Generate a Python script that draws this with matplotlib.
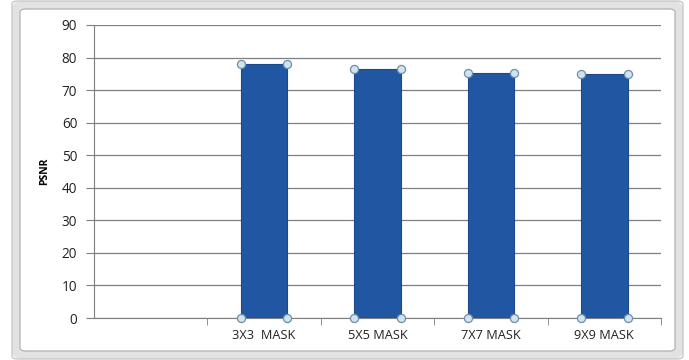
import matplotlib.pyplot as plt
from matplotlib.patches import FancyBboxPatch

categories = ['', '3X3  MASK', '5X5 MASK', '7X7 MASK', '9X9 MASK']
psnr = [0, 78.0, 76.5, 75.3, 74.8]
y_ticks = [0, 10, 20, 30, 40, 50, 60, 70, 80, 90]

plt.rcParams['font.family'] = ['Open Sans', 'DejaVu Sans']

fig = plt.figure(figsize=(6.89, 3.60), dpi=100)

# window frame around the chart: light band with thin darker edges
band = FancyBboxPatch((16 / 689, 5 / 360), 663 / 689, 350 / 360,
                      boxstyle='round,pad=0,rounding_size=0.008',
                      transform=fig.transFigure, facecolor='none',
                      edgecolor='#e2e2e2', linewidth=5.5, zorder=10)
outer = FancyBboxPatch((12 / 689, 1 / 360), 671 / 689, 358 / 360,
                       boxstyle='round,pad=0,rounding_size=0.008',
                       transform=fig.transFigure, facecolor='none',
                       edgecolor='#bdbdbd', linewidth=0.8, zorder=11)
inner = FancyBboxPatch((20 / 689, 9 / 360), 655 / 689, 342 / 360,
                       boxstyle='round,pad=0,rounding_size=0.008',
                       transform=fig.transFigure, facecolor='none',
                       edgecolor='#a8a8a8', linewidth=0.8, zorder=11)
for p in (band, outer, inner):
    fig.patches.append(p)

ax = fig.add_axes([94 / 689, 42 / 360, 567 / 689, 293 / 360])
ax.set_facecolor('none')

x = list(range(len(categories)))
bar_w = 0.41
vals = [v for v in psnr[1:]]
xs = x[1:]
ax.bar(xs, vals, width=bar_w, color='#2156a2', edgecolor='#1c4a8c',
       linewidth=0.8, zorder=3)

# selection handles on the bar corners
hx, hy = [], []
for xi, v in zip(xs, vals):
    hx += [xi - bar_w / 2, xi + bar_w / 2, xi - bar_w / 2, xi + bar_w / 2]
    hy += [0, 0, v, v]
ax.scatter(hx, hy, s=34, facecolor='#cfe3f0', edgecolor='#6f8ea8',
           linewidth=0.9, zorder=5, clip_on=False)

ax.set_xlim(-0.5, len(categories) - 0.5)
ax.set_ylim(0, 90)
ax.set_yticks(y_ticks)
ax.yaxis.grid(True, color='#7f7f7f', linewidth=0.9, zorder=0)
ax.set_axisbelow(True)

ax.set_xticks(x)
ax.set_xticklabels(categories, fontsize=9.2, color='#222222')
ax.set_xticks([i + 0.5 for i in x], minor=True)
ax.tick_params(axis='x', which='major', length=0, pad=8)
ax.tick_params(axis='x', which='minor', length=5, color='#7f7f7f',
               direction='out')
ax.tick_params(axis='y', length=6, color='#7f7f7f', labelsize=9.8,
               labelcolor='#222222', pad=6)

for side in ['top', 'right']:
    ax.spines[side].set_visible(False)
ax.spines['left'].set_color('#7f7f7f')
ax.spines['bottom'].set_color('#7f7f7f')

ax.set_ylabel('PSNR', fontsize=7.5, fontweight='bold', labelpad=8)

fig.savefig('out.png', dpi=100)
